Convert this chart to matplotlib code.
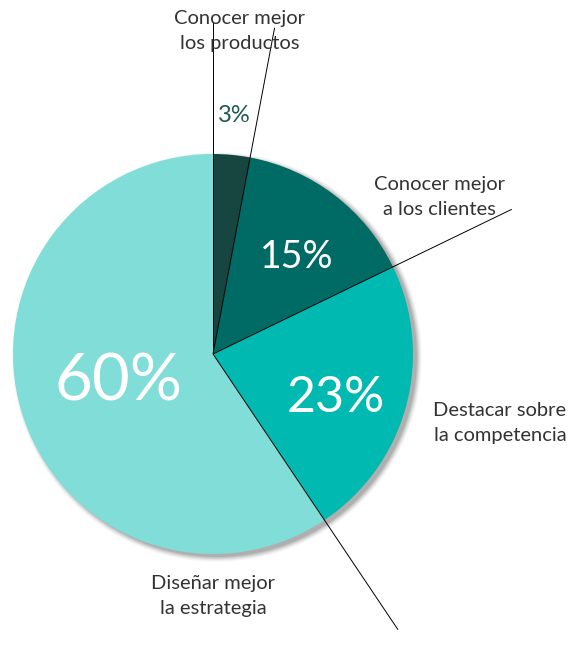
"""Gráfico de pastel: objetivos de la investigación de mercado."""

import numpy as np
import matplotlib.pyplot as plt
from matplotlib.patches import Circle

etiquetas = ["Conocer mejor\nlos productos", "Conocer mejor\na los clientes",
             "Destacar sobre\nla competencia", "Diseñar mejor\nla estrategia"]
valores = [3, 15, 23, 60]
colores = ["#174540", "#006b64", "#00bab2", "#80ddd8"]

W, H = 573, 659
cx, cy, R = 213, H - 354, 200

fig = plt.figure(figsize=(W / 100, H / 100), dpi=100)
ax = fig.add_axes([0, 0, 1, 1])

# sombra difusa (abajo a la derecha)
for i, a in enumerate(np.linspace(0.09, 0.025, 6)):
    ax.add_patch(Circle((cx + 4, cy - 3), R + i, color="black", alpha=a,
                        lw=0, zorder=1))

wedges, _ = ax.pie(valores, colors=colores, startangle=90, counterclock=False,
                   center=(cx, cy), radius=R, frame=True,
                   wedgeprops={"linewidth": 0, "zorder": 2})
ax.set_xlim(0, W)
ax.set_ylim(0, H)
ax.set_aspect("equal")
ax.axis("off")

# líneas guía a lo largo de los bordes de las porciones
largo = 1.66 * R
for w in wedges:
    a = np.deg2rad(w.theta1)
    ax.plot([cx, cx + largo * np.cos(a)], [cy, cy + largo * np.sin(a)],
            color="black", lw=0.7, zorder=5, solid_capstyle="butt")

fuente = ["Lato", "DejaVu Sans"]
txt = "#333333"
pos_etq = [(240, 31), (439, 197), (500, 423), (213, 596)]
for (x, y), e in zip(pos_etq, etiquetas):
    ax.text(x, H - y, e, ha="center", va="center", fontsize=14.5,
            color=txt, family=fuente, linespacing=1.55, zorder=6)

pct = [f"{v}%" for v in valores]
pos_pct = [(234, 116), (297, 257), (336, 398), (118, 382)]
tam_pct = [17, 27, 36, 47]
col_pct = ["#1f5a52", "white", "white", "white"]
for (x, y), p, s, c in zip(pos_pct, pct, tam_pct, col_pct):
    ax.text(x, H - y, p, ha="center", va="center", fontsize=s,
            color=c, family=fuente, zorder=6)

fig.savefig("out.png", dpi=100)
